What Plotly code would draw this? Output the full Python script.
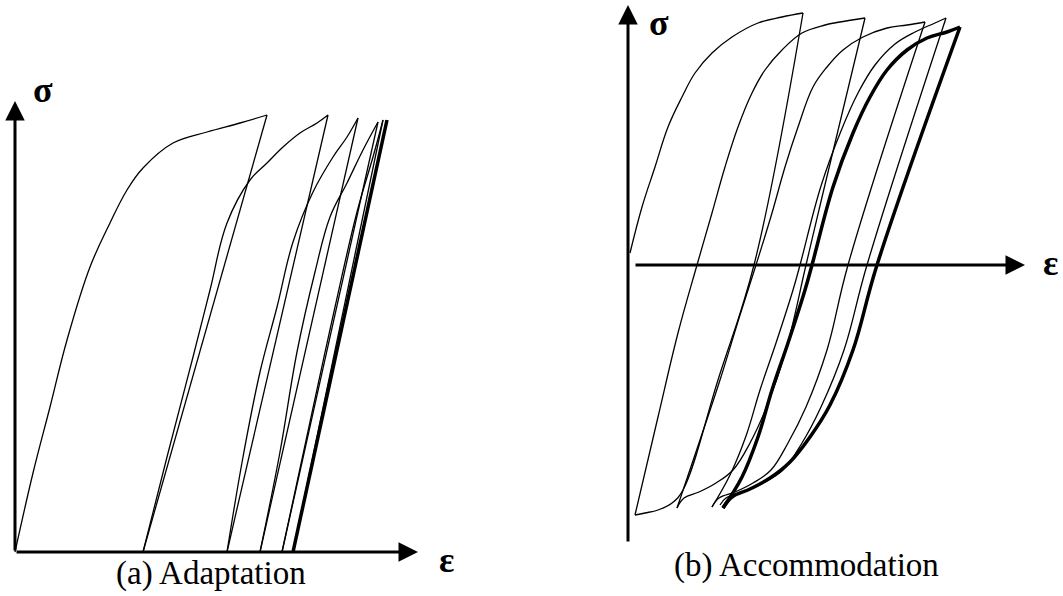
import plotly.graph_objects as go

# ---- (a) Adaptation : strain / stress branches (arbitrary units) ----
a_load1_eps = [0.00, 0.18, 0.35, 0.52, 0.75, 0.95, 1.12, 1.28, 1.58, 1.92, 2.25, 2.52]
a_load1_sig = [0.00, 0.79, 1.45, 2.12, 2.85, 3.29, 3.62, 3.84, 4.09, 4.20, 4.29, 4.37]
a_unl1_eps = [2.52, 1.28]
a_unl1_sig = [4.37, 0.00]
a_load2_eps = [1.28, 1.52, 1.78, 1.95, 2.12, 2.35, 2.52, 2.68, 2.85, 3.02, 3.13]
a_load2_sig = [0.00, 0.95, 1.95, 2.62, 3.29, 3.72, 3.89, 4.05, 4.19, 4.29, 4.37]
a_unl2_eps = [3.13, 2.12]
a_unl2_sig = [4.37, 0.00]
a_load3_eps = [2.12, 2.28, 2.45, 2.62, 2.78, 2.98, 3.18, 3.32, 3.43]
a_load3_sig = [0.00, 0.95, 1.80, 2.45, 3.10, 3.60, 3.95, 4.15, 4.34]
a_unl3_eps = [3.43, 2.45]
a_unl3_sig = [4.34, 0.00]
a_load4_eps = [2.45, 2.65, 2.82, 3.00, 3.15, 3.32, 3.48, 3.63]
a_load4_sig = [0.00, 1.00, 2.00, 2.80, 3.35, 3.69, 4.02, 4.30]
a_unl4_eps = [3.63, 2.67]
a_unl4_sig = [4.30, 0.00]
a_load5_eps = [2.67, 2.95, 3.20, 3.42, 3.58, 3.68]
a_load5_sig = [0.00, 1.30, 2.45, 3.40, 3.95, 4.32]
a_unl5_eps = [3.68, 2.78]
a_unl5_sig = [4.32, 0.00]
a_stab_eps = [2.78, 3.72]
a_stab_sig = [0.00, 4.32]

# ---- (b) Accommodation ----
b_load1_eps = [0.02, 0.14, 0.27, 0.40, 0.54, 0.67, 0.84, 1.04, 1.30, 1.54, 1.75]
b_load1_sig = [0.12, 0.58, 0.98, 1.38, 1.68, 1.92, 2.12, 2.28, 2.42, 2.48, 2.52]
b_unl1_eps = [1.75, 1.26, 0.90, 0.55, 0.44, 0.30, 0.17, 0.07]
b_unl1_sig = [2.52, 0.00, -1.15, -2.25, -2.38, -2.45, -2.48, -2.50]
b_load2_eps = [0.07, 0.30, 0.50, 0.69, 0.84, 0.97, 1.10, 1.24, 1.37, 1.54, 1.74, 1.97, 2.12, 2.37]
b_load2_sig = [-2.50, -1.52, -0.68, 0.00, 0.52, 0.98, 1.38, 1.72, 1.95, 2.15, 2.32, 2.40, 2.43, 2.47]
b_unl2_eps = [2.37, 1.95, 1.78, 1.58, 1.385, 1.22, 1.05, 0.88, 0.71, 0.56, 0.49]
b_unl2_sig = [2.47, 0.72, 0.00, -0.85, -1.42, -1.78, -2.05, -2.18, -2.27, -2.33, -2.43]
b_load3_eps = [0.49, 0.72, 0.92, 1.12, 1.28, 1.44, 1.57, 1.70, 1.85, 1.99, 2.15, 2.35, 2.59, 2.79, 2.97]
b_load3_sig = [-2.43, -1.75, -1.15, -0.50, 0.00, 0.52, 0.98, 1.38, 1.78, 1.98, 2.15, 2.28, 2.37, 2.40, 2.43]
b_unl3_eps = [2.97, 2.20, 1.99, 1.78, 1.60, 1.43, 1.25, 1.07, 0.91, 0.84]
b_unl3_sig = [2.43, 0.00, -0.85, -1.42, -1.78, -2.05, -2.18, -2.27, -2.33, -2.42]
b_load4_eps = [0.84, 1.02, 1.18, 1.32, 1.48, 1.65, 1.72, 1.93, 2.13, 2.30, 2.47, 2.67, 2.87, 3.07, 3.18]
b_load4_sig = [-2.42, -2.10, -1.71, -1.25, -0.78, -0.25, 0.00, 0.79, 1.34, 1.72, 2.00, 2.21, 2.33, 2.42, 2.47]
b_unl4_eps = [3.18, 2.39, 2.16, 1.93, 1.74, 1.55, 1.35, 1.16, 0.98, 0.92]
b_unl4_sig = [2.47, 0.00, -0.85, -1.42, -1.78, -2.05, -2.18, -2.27, -2.33, -2.40]
b_stab_load_eps = [0.95, 1.14, 1.30, 1.44, 1.60, 1.77, 1.84, 2.05, 2.25, 2.42, 2.59, 2.79, 2.99, 3.19, 3.32]
b_stab_load_sig = [-2.43, -2.12, -1.72, -1.25, -0.78, -0.25, 0.00, 0.78, 1.32, 1.68, 1.95, 2.15, 2.27, 2.33, 2.38]
b_stab_unl_eps = [3.32, 2.49, 2.25, 2.02, 1.82, 1.62, 1.42, 1.22, 1.04, 0.95]
b_stab_unl_sig = [2.38, 0.00, -0.85, -1.40, -1.72, -1.97, -2.13, -2.24, -2.32, -2.43]

W, H = 1063, 596
fig = go.Figure()


def branch(x, y, ax, width=1.3, curved=True):
    fig.add_trace(go.Scatter(
        x=x, y=y, mode="lines", xaxis="x" + ax, yaxis="y" + ax,
        line=dict(color="black", width=width,
                  shape="spline" if curved else "linear", smoothing=1.1),
        hoverinfo="skip", showlegend=False))


# panel (a)
branch(a_load1_eps, a_load1_sig, "")
branch(a_unl1_eps, a_unl1_sig, "", curved=False)
branch(a_load2_eps, a_load2_sig, "")
branch(a_unl2_eps, a_unl2_sig, "", curved=False)
branch(a_load3_eps, a_load3_sig, "")
branch(a_unl3_eps, a_unl3_sig, "", curved=False)
branch(a_load4_eps, a_load4_sig, "")
branch(a_unl4_eps, a_unl4_sig, "", curved=False)
branch(a_load5_eps, a_load5_sig, "")
branch(a_unl5_eps, a_unl5_sig, "", curved=False)
branch(a_stab_eps, a_stab_sig, "", width=3.5, curved=False)

# panel (b)
branch(b_load1_eps, b_load1_sig, "2")
branch(b_unl1_eps, b_unl1_sig, "2")
branch(b_load2_eps, b_load2_sig, "2")
branch(b_unl2_eps, b_unl2_sig, "2")
branch(b_load3_eps, b_load3_sig, "2")
branch(b_unl3_eps, b_unl3_sig, "2")
branch(b_load4_eps, b_load4_sig, "2")
branch(b_unl4_eps, b_unl4_sig, "2")
branch(b_stab_load_eps, b_stab_load_sig, "2", width=3.5)
branch(b_stab_unl_eps, b_stab_unl_sig, "2", width=3.5)


def arrow(x0, y0, x1, y1, ax):
    return dict(x=x1, y=y1, ax=x0, ay=y0, xref="x" + ax, yref="y" + ax,
                axref="x" + ax, ayref="y" + ax, text="", showarrow=True,
                arrowhead=2, arrowsize=1.3, arrowwidth=3, arrowcolor="black",
                standoff=0, startstandoff=0)


sym = dict(family="Liberation Serif, Times New Roman, serif", size=36, color="black")
cap = dict(family="Liberation Serif, Times New Roman, serif", size=33, color="black")

annotations = [
    arrow(0, 0, 0, 4.51, ""),
    arrow(0, 0, 4.03, 0, ""),
    arrow(0, -2.78, 0, 2.60, "2"),
    arrow(0.06, 0, 3.97, 0, "2"),
    dict(x=0.28, y=4.62, xref="x", yref="y", text="<b>σ</b>", showarrow=False, font=sym),
    dict(x=4.31, y=-0.08, xref="x", yref="y", text="<b>ε</b>", showarrow=False, font=sym),
    dict(x=0.31, y=2.42, xref="x2", yref="y2", text="<b>σ</b>", showarrow=False, font=sym),
    dict(x=4.22, y=0.02, xref="x2", yref="y2", text="<b>ε</b>", showarrow=False, font=sym),
    dict(x=1.96, y=-0.21, xref="x", yref="y", text="(a) Adaptation", showarrow=False, font=cap),
    dict(x=1.78, y=-3.00, xref="x2", yref="y2", text="(b) Accommodation", showarrow=False, font=cap),
]

hidden = dict(visible=False, fixedrange=True)
fig.update_layout(
    width=W, height=H,
    margin=dict(l=0, r=0, t=0, b=0),
    paper_bgcolor="white", plot_bgcolor="white",
    xaxis=dict(domain=[0, 470 / W], range=[-0.15, 4.55], **hidden),
    yaxis=dict(domain=[0, 1], range=[-0.44, 5.52], **hidden),
    xaxis2=dict(domain=[600 / W, 1], range=[-0.28, 4.35], **hidden),
    yaxis2=dict(domain=[0, 1], range=[-3.31, 2.65], **hidden),
    annotations=annotations,
)

# the page body has a default 8px margin; drop it so the figure sits at (0, 0)
fig.write_html("out.html", config={"displayModeBar": False},
               post_script="document.body.style.margin='0';")
